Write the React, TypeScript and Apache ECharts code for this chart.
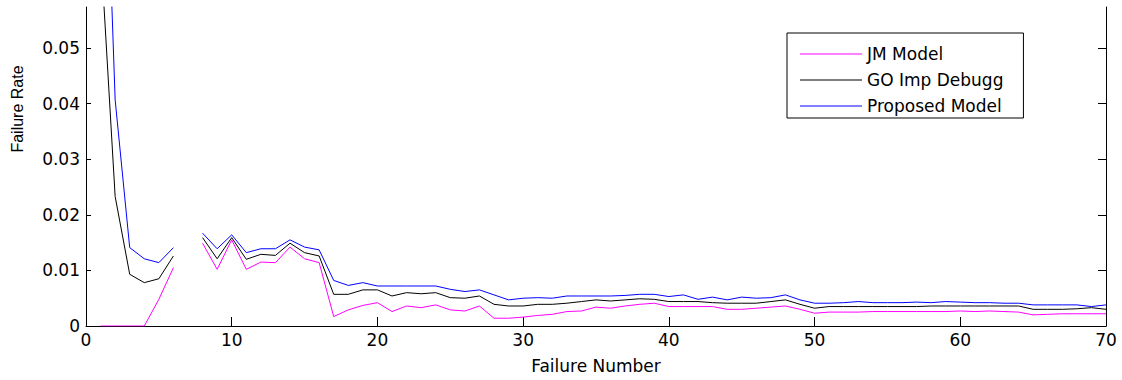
import React, { useEffect, useRef } from "react";
import * as echarts from "echarts";

const failureNumbers: number[] = Array.from({ length: 70 }, (_, i) => i + 1);

const jmModel: (number | null)[] = [
  0, 0, 0, 0, 0.0048, 0.0105, null, 0.0149, 0.0102, 0.0155,
  0.0102, 0.0115, 0.0114, 0.0142, 0.0121, 0.0114, 0.0017, 0.0029, 0.0037, 0.0042,
  0.0026, 0.0036, 0.0033, 0.0038, 0.0029, 0.0027, 0.0036, 0.0014, 0.0014, 0.0016,
  0.0019, 0.0021, 0.0026, 0.0027, 0.0034, 0.0032, 0.0036, 0.0039, 0.0041, 0.0035,
  0.0035, 0.0035, 0.0035, 0.0030, 0.0030, 0.0032, 0.0034, 0.0036, 0.0030, 0.0023,
  0.0025, 0.0025, 0.0025, 0.0026, 0.0026, 0.0026, 0.0026, 0.0026, 0.0026, 0.0027,
  0.0026, 0.0027, 0.0026, 0.0025, 0.0020, 0.0021, 0.0022, 0.0022, 0.0022, 0.0022,
];

const goImpDebugg: (number | null)[] = [
  0.068, 0.0233, 0.0093, 0.0078, 0.0085, 0.0126, null, 0.0159, 0.0121, 0.0159,
  0.012, 0.0129, 0.0127, 0.0149, 0.0132, 0.0126, 0.0057, 0.0057, 0.0065, 0.0065,
  0.0054, 0.006, 0.0058, 0.006, 0.0051, 0.005, 0.0054, 0.0039, 0.0036, 0.0036,
  0.0039, 0.0039, 0.0041, 0.0044, 0.0047, 0.0045, 0.0047, 0.0049, 0.0048, 0.0044,
  0.0044, 0.0044, 0.0042, 0.0041, 0.0041, 0.0041, 0.0044, 0.0047, 0.0039, 0.0032,
  0.0035, 0.0035, 0.0035, 0.0035, 0.0035, 0.0035, 0.0035, 0.0036, 0.0036, 0.0036,
  0.0036, 0.0036, 0.0036, 0.0036, 0.003, 0.003, 0.003, 0.0031, 0.0033, 0.003,
];

const proposedModel: (number | null)[] = [
  0.116, 0.0407, 0.0141, 0.0121, 0.0114, 0.0141, null, 0.0167, 0.0139, 0.0164,
  0.0132, 0.0139, 0.0139, 0.0155, 0.0142, 0.0137, 0.0082, 0.0073, 0.0078, 0.0072,
  0.0072, 0.0072, 0.0072, 0.0072, 0.0066, 0.0062, 0.0065, 0.0056, 0.0047, 0.005,
  0.0051, 0.005, 0.0054, 0.0054, 0.0054, 0.0054, 0.0055, 0.0057, 0.0057, 0.0053,
  0.0056, 0.0048, 0.0052, 0.0047, 0.0052, 0.005, 0.0051, 0.0056, 0.0047, 0.0041,
  0.0041, 0.0042, 0.0044, 0.0042, 0.0042, 0.0042, 0.0043, 0.0042, 0.0044, 0.0043,
  0.0042, 0.0042, 0.0041, 0.0041, 0.0038, 0.0038, 0.0038, 0.0038, 0.0035, 0.0038,
];

const yTicks: number[] = [0, 0.01, 0.02, 0.03, 0.04, 0.05];
const seriesNames: string[] = ["JM Model", "GO Imp Debugg", "Proposed Model"];
const seriesColors: string[] = ["#ff00ff", "#000000", "#0000ff"];

const FONT = "DejaVu Sans";

export default function App() {
  const ref = useRef<HTMLDivElement>(null);

  useEffect(() => {
    if (!ref.current) return;
    const chart = echarts.init(ref.current, undefined, { renderer: "svg" });
    const allData = [jmModel, goImpDebugg, proposedModel];
    const yMax = 0.0574;

    const yLabelFmt = (v: number) => (v === 0 ? "0" : v.toFixed(2));

    chart.setOption({
      animation: false,
      backgroundColor: "#ffffff",
      grid: { left: 86, right: 16, top: 7, bottom: 54, containLabel: false },
      legend: {
        orient: "vertical",
        left: 787,
        top: 33,
        data: seriesNames,
        icon: "rect",
        itemWidth: 62,
        itemHeight: 1,
        itemGap: 6,
        padding: [11, 20, 2, 13],
        backgroundColor: "#ffffff",
        borderColor: "#000000",
        borderWidth: 1,
        borderRadius: 0,
        textStyle: { fontFamily: FONT, fontSize: 17, color: "#000", lineHeight: 20 },
      },
      xAxis: {
        type: "value",
        min: 0,
        max: 70,
        interval: 10,
        name: "Failure Number",
        nameLocation: "middle",
        nameGap: 31,
        nameTextStyle: { fontFamily: FONT, fontSize: 17, color: "#000" },
        axisLine: { show: true, onZero: false, lineStyle: { color: "#000", width: 1 } },
        axisTick: { show: true, inside: true, length: 9, lineStyle: { color: "#000" } },
        axisLabel: { fontFamily: FONT, fontSize: 17, color: "#000", margin: 5 },
        splitLine: { show: false },
      },
      yAxis: [
        {
          type: "value",
          position: "left",
          min: 0,
          max: yMax,
          axisLine: { show: true, lineStyle: { color: "#000", width: 1 } },
          axisTick: { show: true, inside: true, length: 5, customValues: yTicks, lineStyle: { color: "#000" } },
          axisLabel: {
            fontFamily: FONT,
            fontSize: 17,
            color: "#000",
            margin: 6,
            customValues: yTicks,
            formatter: yLabelFmt,
          },
          splitLine: { show: false },
        },
        {
          type: "value",
          position: "right",
          min: 0,
          max: yMax,
          axisLine: { show: true, lineStyle: { color: "#000", width: 1 } },
          axisTick: { show: true, inside: true, length: 8, customValues: yTicks, lineStyle: { color: "#000" } },
          axisLabel: { show: false },
          splitLine: { show: false },
        },
      ],
      graphic: [
        {
          type: "text",
          x: 17,
          y: 109,
          rotation: Math.PI / 2,
          style: {
            text: "Failure Rate",
            font: '16px "Liberation Sans"',
            fill: "#000",
            align: "center",
            verticalAlign: "middle",
          },
        },
      ],
      series: allData.map((d, i) => ({
        name: seriesNames[i],
        type: "line",
        yAxisIndex: 0,
        data: failureNumbers.map((n, k) => [n, d[k]]),
        showSymbol: false,
        symbol: "none",
        connectNulls: false,
        clip: true,
        lineStyle: { color: seriesColors[i], width: 1 },
        itemStyle: { color: seriesColors[i] },
      })),
    });

    return () => chart.dispose();
  }, []);

  return (
    <div
      ref={ref}
      style={{ position: "absolute", left: 0, top: 0, width: 1122, height: 380 }}
    />
  );
}
